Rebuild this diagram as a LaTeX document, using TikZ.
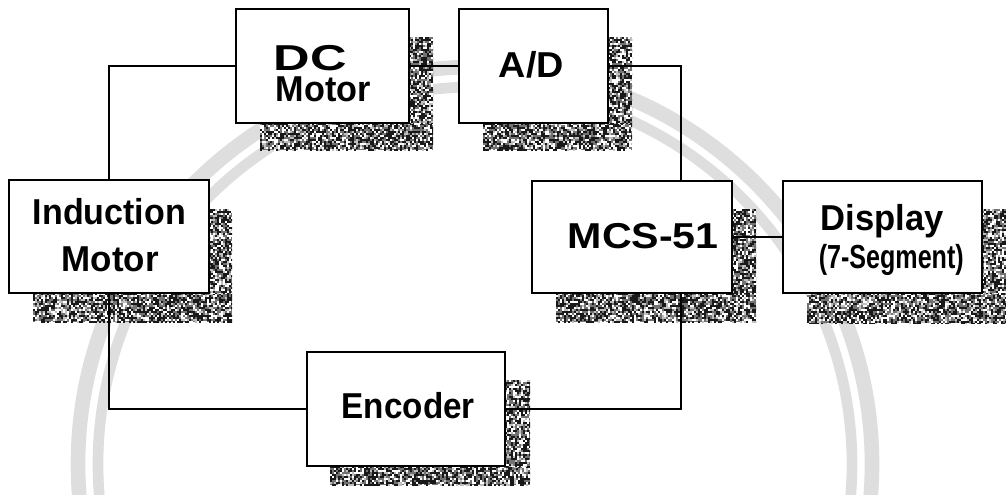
\documentclass[tikz,border=0pt]{standalone}
\usepackage{fontspec}
\usepackage{graphicx}
\setmainfont{Liberation Sans}
\usetikzlibrary{fit,calc}

% stretch a label horizontally to a given width, keeping its height
\newcommand\fitw[2]{\resizebox{#1}{\height}{#2}}
% two left-aligned lines set at a fixed baseline distance
\newcommand\twolines[3]{\vbox{\baselineskip=#1\lineskiplimit=-100pt\lineskip=0pt
  \hbox{#2}\hbox{#3}}}

% grainy half-tone fill for the drop shadows
\newcommand\grain[4]{%
  \begin{scope}
    \clip (#1,#2) rectangle (#3,#4);
    \fill[shadowbase] (#1,#2) rectangle (#3,#4);
    \pgfmathtruncatemacro\gxb{#1+2}%
    \pgfmathtruncatemacro\gyb{#2+2}%
    \foreach \gx in {#1,\gxb,...,#3}{%
      \foreach \gy in {#2,\gyb,...,#4}{%
        \pgfmathsetmacro\gr{rnd}%
        \ifdim\gr pt<0.22pt \fill[white] (\gx,\gy) rectangle ++(2,2);%
        \else\ifdim\gr pt<0.34pt \fill[black!25] (\gx,\gy) rectangle ++(2,2);%
        \else\ifdim\gr pt<0.72pt \fill[black!90] (\gx,\gy) rectangle ++(2,2);%
        \fi\fi\fi
      }}%
  \end{scope}}

\tikzset{
  shadowbase/.style={fill=black!55},
  blk/.style={draw=black, fill=white, line width=1.3pt, inner sep=0pt, rectangle},
  wire/.style={draw=black, line width=1.4pt},
  lbl/.style={anchor=base west, inner sep=0pt, font=\bfseries\fontsize{27}{27}\selectfont},
  lblsmall/.style={lbl, font=\bfseries\fontsize{25}{25}\selectfont},
  ring/.style={draw=black!13}
}

\begin{document}
\begin{tikzpicture}[x=0.75pt, y=-0.75pt]
  \pgfmathsetseed{7}
  \useasboundingbox (0,0) rectangle (1006,494);
  \fill[white] (0,0) rectangle (1006,494);

  % faint rings of the background seal
  \begin{scope}
    \clip (0,0) rectangle (1006,494);
    \draw[ring, line width=11pt] (475,464) circle[radius=397];
    \draw[ring, line width=8pt] (475,464) circle[radius=377];
  \end{scope}

  % drop shadows (bottom strip and right strip of each box)
  \grain{260}{123}{433}{150}\grain{409}{37}{433}{123}   % DC Motor
  \grain{483}{123}{632}{150}\grain{608}{37}{632}{123}   % A/D
  \grain{33}{293}{232}{322}\grain{209}{209}{232}{293}   % Induction Motor
  \grain{556}{293}{756}{322}\grain{732}{209}{756}{293}  % MCS-51
  \grain{807}{293}{1006}{323}\grain{982}{209}{1006}{293}% Display
  \grain{330}{466}{530}{485}\grain{505}{380}{530}{466}  % Encoder

  % blocks
  \node[blk, fit={(236,9) (409,123)}] (dc) {};
  \node[blk, fit={(459,9) (608,123)}] (ad) {};
  \node[blk, fit={(9,180) (209,293)}] (im) {};
  \node[blk, fit={(532,181) (732,293)}] (mcs) {};
  \node[blk, fit={(783,181) (982,293)}] (disp) {};
  \node[blk, fit={(307,352) (505,466)}] (enc) {};

  % junction column on the right-hand side
  \coordinate (jr) at (681,0);

  % connections
  \draw[wire] (im.north) |- (dc.west);
  \draw[wire] (dc.east) -- (ad.west);
  \draw[wire] (ad.east) -| (jr |- mcs.north);
  \draw[wire] (mcs.east) -- (disp.west);
  \draw[wire] (jr |- mcs.south) |- (enc.east);
  \draw[wire] (im.south) |- (enc.west);

  % labels
  \node[lbl] (dc-a) at (273.5,101)
    {\twolines{23.25pt}{\fitw{54.75pt}{DC}}{\kern1.5pt\fitw{71.25pt}{Motor}}};
  \node[lbl] (ad-a) at (498.5,77) {\fitw{48.75pt}{A/D}};
  \node[lbl] (im-a) at (32.5,224) {\fitw{114.75pt}{Induction}};
  \node[lbl] (im-b) at (61.5,271) {\fitw{72.75pt}{Motor}};
  \node[lbl] (mcs-a) at (567.5,248) {\fitw{113.25pt}{MCS-51}};
  \node[lbl] (disp-a) at (820.5,230) {\fitw{92.25pt}{Display}};
  \node[lblsmall] (disp-b) at (818.5,268) {\fitw{108.75pt}{(7-Segment)}};
  \node[lbl] (enc-a) at (341.5,418) {\fitw{99.75pt}{Encoder}};
\end{tikzpicture}
\end{document}
